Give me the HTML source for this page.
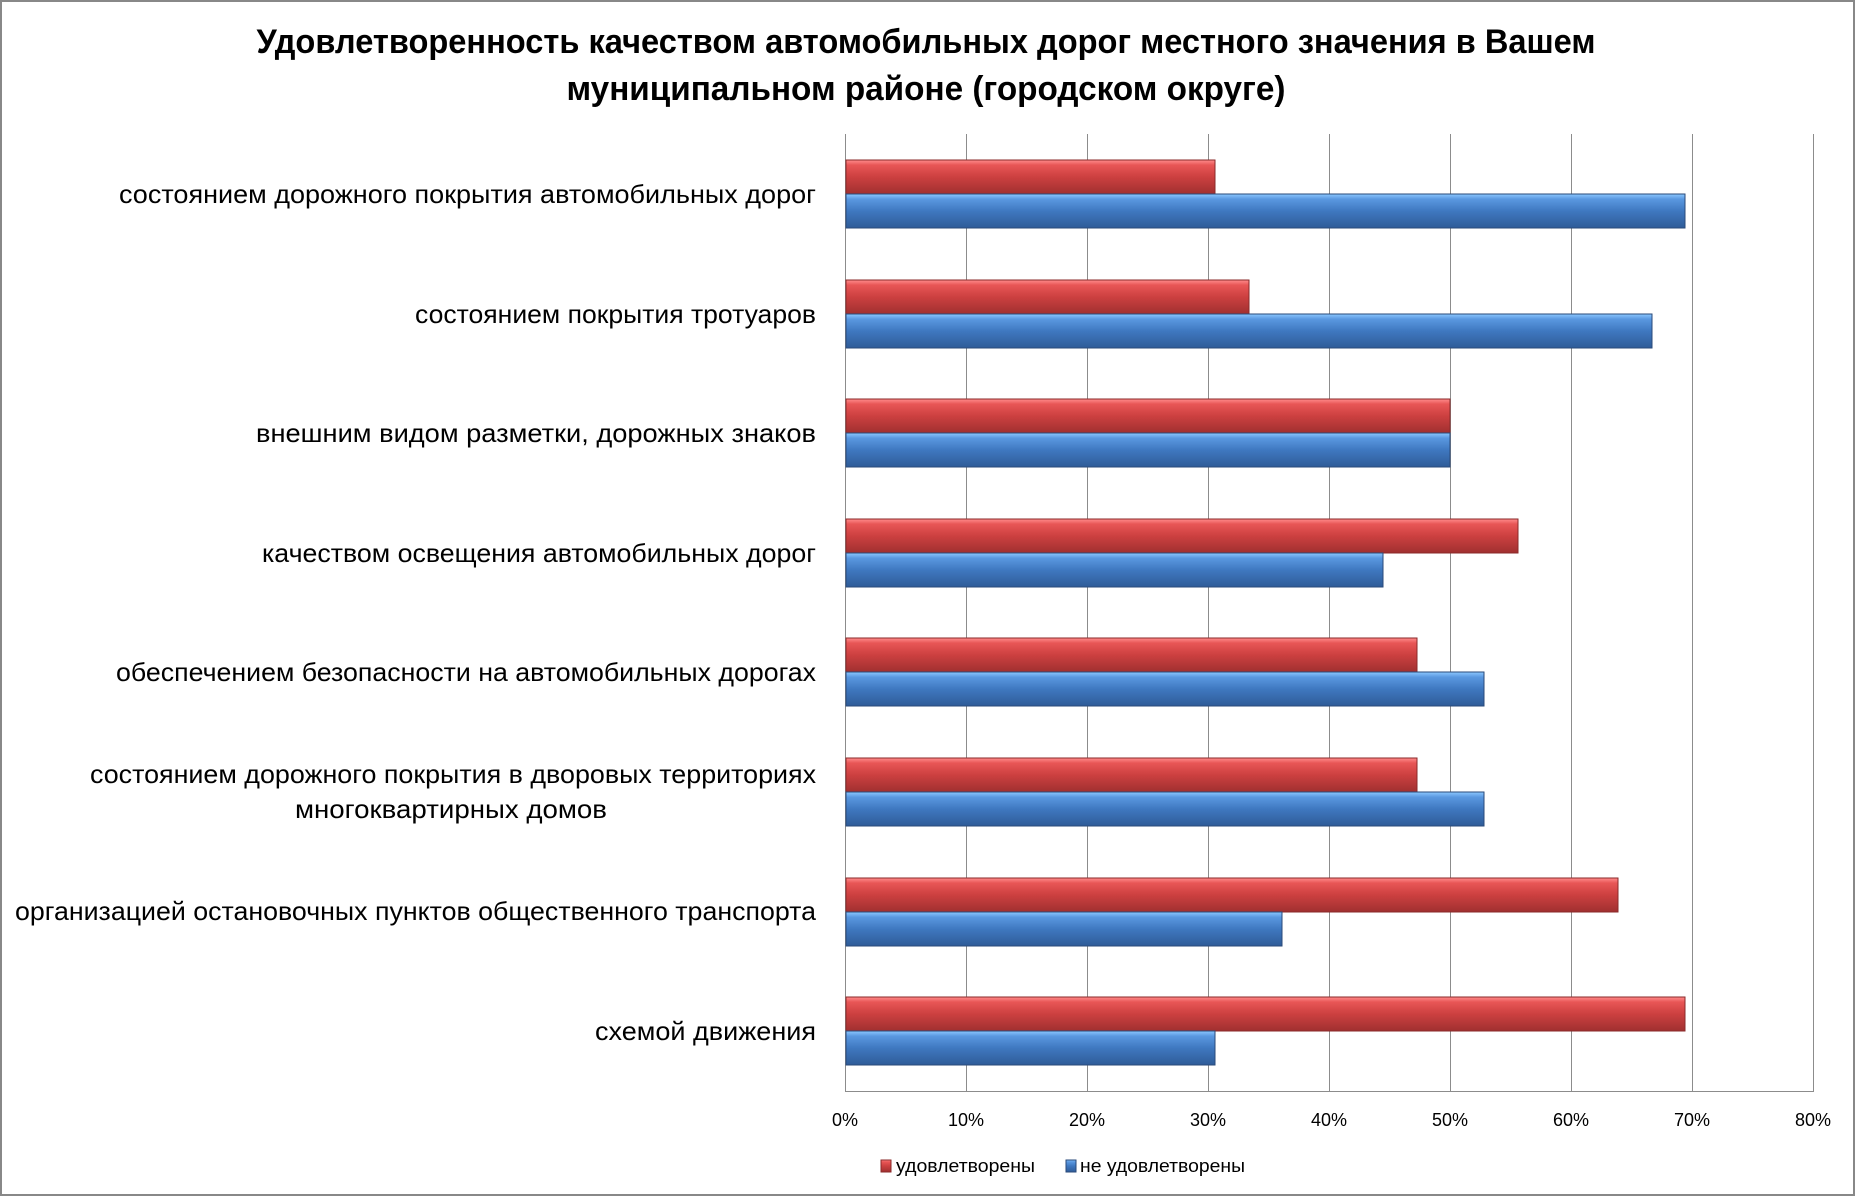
<!DOCTYPE html>
<html><head><meta charset="utf-8"><style>
html,body{margin:0;padding:0;background:#fff;}
svg{display:block;}
text{font-family:"Liberation Sans Narrow","Liberation Sans",sans-serif;fill:#000;}
</style></head><body>
<svg width="1855" height="1196" viewBox="0 0 1855 1196" xmlns="http://www.w3.org/2000/svg">
<defs>
<linearGradient id="r" x1="0" y1="0" x2="0" y2="1">
<stop offset="0" stop-color="#ff8c8c"/><stop offset="0.15" stop-color="#e85656"/><stop offset="0.5" stop-color="#cc4040"/><stop offset="1" stop-color="#a03030"/>
</linearGradient>
<linearGradient id="b" x1="0" y1="0" x2="0" y2="1">
<stop offset="0" stop-color="#8cc8ff"/><stop offset="0.15" stop-color="#5a98e0"/><stop offset="0.5" stop-color="#3f78c0"/><stop offset="1" stop-color="#2f5c98"/>
</linearGradient>
</defs>
<rect x="1" y="1" width="1853" height="1194" fill="#fff" stroke="#888" stroke-width="2"/>
<text x="926" y="53" text-anchor="middle" font-size="34" font-weight="bold" textLength="1339" lengthAdjust="spacingAndGlyphs">Удовлетворенность качеством автомобильных дорог местного значения в Вашем</text>
<text x="926" y="100" text-anchor="middle" font-size="34" font-weight="bold" textLength="719" lengthAdjust="spacingAndGlyphs">муниципальном районе (городском округе)</text>
<g stroke="#8c8c8c" stroke-width="1">
<line x1="845.5" y1="134" x2="845.5" y2="1092"/>
<line x1="966.5" y1="134" x2="966.5" y2="1092"/>
<line x1="1087.5" y1="134" x2="1087.5" y2="1092"/>
<line x1="1208.5" y1="134" x2="1208.5" y2="1092"/>
<line x1="1329.5" y1="134" x2="1329.5" y2="1092"/>
<line x1="1450.5" y1="134" x2="1450.5" y2="1092"/>
<line x1="1571.5" y1="134" x2="1571.5" y2="1092"/>
<line x1="1692.5" y1="134" x2="1692.5" y2="1092"/>
<line x1="1813.5" y1="134" x2="1813.5" y2="1092"/>
<line x1="845" y1="1091.5" x2="1813" y2="1091.5"/>
</g>
<g stroke-width="1">
<!-- row height 119.6, bars at offset 26 -->
<rect x="846" y="160" width="369" height="34" fill="url(#r)" stroke="#8a2a2a"/>
<rect x="846" y="194" width="839" height="34" fill="url(#b)" stroke="#2a4a7a"/>
<rect x="846" y="280" width="403" height="34" fill="url(#r)" stroke="#8a2a2a"/>
<rect x="846" y="314" width="806" height="34" fill="url(#b)" stroke="#2a4a7a"/>
<rect x="846" y="399" width="604" height="34" fill="url(#r)" stroke="#8a2a2a"/>
<rect x="846" y="433" width="604" height="34" fill="url(#b)" stroke="#2a4a7a"/>
<rect x="846" y="519" width="672" height="34" fill="url(#r)" stroke="#8a2a2a"/>
<rect x="846" y="553" width="537" height="34" fill="url(#b)" stroke="#2a4a7a"/>
<rect x="846" y="638" width="571" height="34" fill="url(#r)" stroke="#8a2a2a"/>
<rect x="846" y="672" width="638" height="34" fill="url(#b)" stroke="#2a4a7a"/>
<rect x="846" y="758" width="571" height="34" fill="url(#r)" stroke="#8a2a2a"/>
<rect x="846" y="792" width="638" height="34" fill="url(#b)" stroke="#2a4a7a"/>
<rect x="846" y="878" width="772" height="34" fill="url(#r)" stroke="#8a2a2a"/>
<rect x="846" y="912" width="436" height="34" fill="url(#b)" stroke="#2a4a7a"/>
<rect x="846" y="997" width="839" height="34" fill="url(#r)" stroke="#8a2a2a"/>
<rect x="846" y="1031" width="369" height="34" fill="url(#b)" stroke="#2a4a7a"/>
</g>
<g font-size="26" text-anchor="end">
<text x="816" y="203" textLength="697" lengthAdjust="spacingAndGlyphs">состоянием дорожного покрытия автомобильных дорог</text>
<text x="816" y="323" textLength="401" lengthAdjust="spacingAndGlyphs">состоянием покрытия тротуаров</text>
<text x="816" y="442" textLength="560" lengthAdjust="spacingAndGlyphs">внешним видом разметки, дорожных знаков</text>
<text x="816" y="562" textLength="554" lengthAdjust="spacingAndGlyphs">качеством освещения автомобильных дорог</text>
<text x="816" y="681" textLength="700" lengthAdjust="spacingAndGlyphs">обеспечением безопасности на автомобильных дорогах</text>
<text x="816" y="783" textLength="726" lengthAdjust="spacingAndGlyphs">состоянием дорожного покрытия в дворовых территориях</text>
<text x="607" y="818" text-anchor="end" textLength="312" lengthAdjust="spacingAndGlyphs">многоквартирных домов</text>
<text x="816" y="920" textLength="801" lengthAdjust="spacingAndGlyphs">организацией остановочных пунктов общественного транспорта</text>
<text x="816" y="1040" textLength="221" lengthAdjust="spacingAndGlyphs">схемой движения</text>
</g>
<g font-size="18" text-anchor="middle">
<text x="845" y="1126">0%</text>
<text x="966" y="1126">10%</text>
<text x="1087" y="1126">20%</text>
<text x="1208" y="1126">30%</text>
<text x="1329" y="1126">40%</text>
<text x="1450" y="1126">50%</text>
<text x="1571" y="1126">60%</text>
<text x="1692" y="1126">70%</text>
<text x="1813" y="1126">80%</text>
</g>
<rect x="881" y="1160" width="10" height="12" fill="url(#r)" stroke="#8a2a2a"/>
<text x="896" y="1172" font-size="18" textLength="139" lengthAdjust="spacingAndGlyphs">удовлетворены</text>
<rect x="1066" y="1160" width="10" height="12" fill="url(#b)" stroke="#2a4a7a"/>
<text x="1080" y="1172" font-size="18" textLength="165" lengthAdjust="spacingAndGlyphs">не удовлетворены</text>
</svg>
</body></html>
